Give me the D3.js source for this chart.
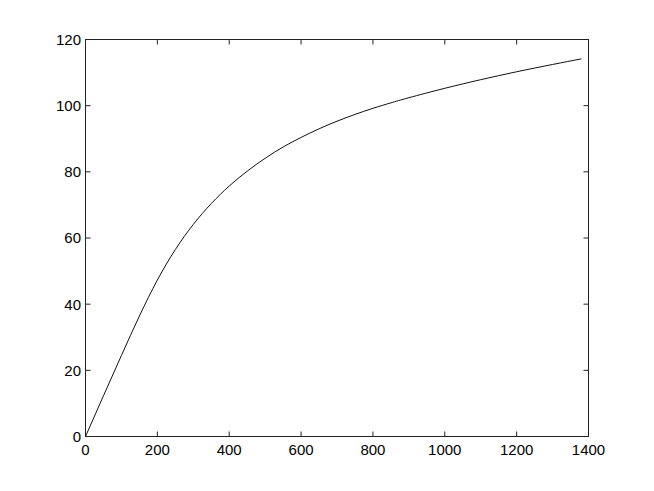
<!DOCTYPE html>
<html><head><meta charset="utf-8">
<script src="https://cdn.jsdelivr.net/npm/d3@7"></script>
<style>body{margin:0;background:#fff}svg{display:block}text{font-family:"Liberation Sans",Arial,Helvetica,sans-serif;font-size:15px;fill:#000}</style>
</head><body><svg id="c" width="654" height="491"></svg>
<script>
const xValues = [0, 50, 100, 150, 200, 250, 300, 350, 400, 450, 500, 550, 600, 650, 700, 750, 800, 850, 900, 1000, 1100, 1200, 1300, 1380];
const yValues = [0, 12.3, 24.5, 36.4, 47.3, 56.5, 64.1, 70.4, 75.7, 80.2, 84.1, 87.5, 90.4, 93.0, 95.3, 97.35, 99.2, 100.85, 102.4, 105.25, 107.85, 110.25, 112.45, 114.15];
const xTicks = [0, 200, 400, 600, 800, 1000, 1200, 1400];
const yTicks = [0, 20, 40, 60, 80, 100, 120];

const svg = d3.select("#c");
const L = 85.5, R = 588.5, T = 39.5, B = 436.5;
const x = d3.scaleLinear().domain([0, 1400]).range([L, R]);
const y = d3.scaleLinear().domain([0, 120]).range([B, T]);
const tl = 5;

svg.append("rect").attr("x", L).attr("y", T).attr("width", R - L).attr("height", B - T)
  .attr("fill", "none").attr("stroke", "#222").attr("stroke-width", 1);

const g = svg.append("g");
xTicks.forEach(v => {
  g.append("line").attr("x1", x(v)).attr("x2", x(v)).attr("y1", B).attr("y2", B - tl).attr("stroke", "#222");
  g.append("line").attr("x1", x(v)).attr("x2", x(v)).attr("y1", T).attr("y2", T + tl).attr("stroke", "#222");
  g.append("text").attr("x", x(v)).attr("y", 455).attr("text-anchor", "middle").text(v);
});
yTicks.forEach(v => {
  g.append("line").attr("y1", y(v)).attr("y2", y(v)).attr("x1", L).attr("x2", L + tl).attr("stroke", "#222");
  g.append("line").attr("y1", y(v)).attr("y2", y(v)).attr("x1", R).attr("x2", R - tl).attr("stroke", "#222");
  g.append("text").attr("x", 81).attr("y", y(v)).attr("dy", "0.36em").attr("text-anchor", "end").text(v);
});

const data = xValues.map((v, i) => [v, yValues[i]]);
svg.append("path").datum(data)
  .attr("fill", "none").attr("stroke", "#111").attr("stroke-width", 1)
  .attr("d", d3.line().x(d => x(d[0])).y(d => y(d[1])).curve(d3.curveNatural));
</script></body></html>
